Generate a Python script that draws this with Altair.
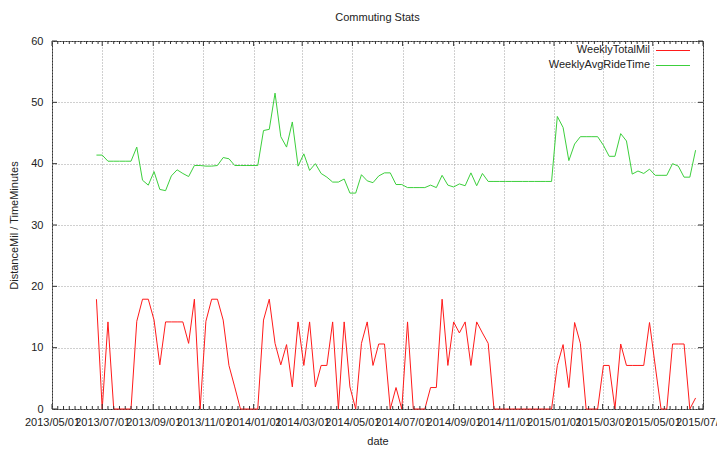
import altair as alt
import pandas as pd

# ---------------- data ----------------
series_names = ["WeeklyTotalMil", "WeeklyAvgRideTime"]
series_colors = ["#ff1a1a", "#3ccf3c"]

week_start = "2013-06-24"
n_weeks = 105

weekly_total_mil = [
    17.9, 0, 14.2, 0, 0, 0, 0, 14.3, 17.9, 17.9,
    14.5, 7.2, 14.2, 14.2, 14.2, 14.2, 10.7, 17.9, 0, 14.3,
    17.9, 17.9, 14.5, 7.1, 3.6, 0, 0, 0, 0, 14.5,
    17.9, 10.7, 7.2, 10.5, 3.6, 14.2, 7.1, 14.2, 3.6, 7.1,
    7.1, 14.2, 0, 14.2, 3.6, 0, 10.7, 14.2, 7.1, 10.6,
    10.6, 0, 3.5, 0, 14.2, 0, 0, 0, 3.5, 3.5,
    17.9, 7.1, 14.2, 12.4, 14.2, 7.1, 14.2, 12.4, 10.7, 0,
    0, 0, 0, 0, 0, 0, 0, 0, 0, 0,
    7.1, 10.5, 3.5, 14.1, 10.7, 0, 0, 0, 7.1, 7.1,
    0, 10.6, 7.1, 7.1, 7.1, 7.1, 14.1, 7.0, 0, 0,
    10.6, 10.6, 10.6, 0, 1.8,
]

weekly_avg_ride_time = [
    41.4, 41.4, 40.4, 40.4, 40.4, 40.4, 40.4, 42.7, 37.3, 36.5,
    38.7, 35.8, 35.6, 38.0, 39.0, 38.4, 37.9, 39.7, 39.7, 39.6,
    39.6, 39.7, 41.0, 40.8, 39.7, 39.7, 39.7, 39.7, 39.7, 45.4,
    45.6, 51.5, 44.4, 42.7, 46.8, 39.6, 41.6, 38.9, 40.0, 38.4,
    37.8, 37.0, 37.0, 37.5, 35.2, 35.2, 38.2, 37.2, 36.9, 38.0,
    38.5, 38.5, 36.6, 36.6, 36.1, 36.1, 36.1, 36.1, 36.5, 36.1,
    38.1, 36.5, 36.2, 36.7, 36.4, 38.5, 36.4, 38.4, 37.1, 37.1,
    37.1, 37.1, 37.1, 37.1, 37.1, 37.1, 37.1, 37.1, 37.1, 37.1,
    47.7, 45.9, 40.5, 43.2, 44.4, 44.4, 44.4, 44.4, 43.0, 41.2,
    41.2, 44.9, 43.7, 38.3, 38.8, 38.4, 39.1, 38.1, 38.1, 38.1,
    40.0, 39.6, 37.8, 37.8, 42.2,
]

x_tick_dates = [
    "2013-05-01", "2013-07-01", "2013-09-01", "2013-11-01",
    "2014-01-01", "2014-03-01", "2014-05-01", "2014-07-01",
    "2014-09-01", "2014-11-01", "2015-01-01", "2015-03-01",
    "2015-05-01", "2015-07-01",
]
y_ticks = [0, 10, 20, 30, 40, 50, 60]

title_text = "Commuting Stats"
x_title = "date"
y_title = "DistanceMil / TimeMinutes"

# ---------------- tables ----------------
dates = pd.date_range(week_start, periods=n_weeks, freq="7D").strftime("%Y-%m-%d")
df = pd.concat([
    pd.DataFrame({"date": dates, "value": weekly_total_mil, "series": series_names[0]}),
    pd.DataFrame({"date": dates, "value": weekly_avg_ride_time, "series": series_names[1]}),
])

major_df = pd.DataFrame({"date": x_tick_dates})
minor = []
for a, b in zip(x_tick_dates[:-1], x_tick_dates[1:]):
    d = pd.Timestamp(a) + pd.Timedelta(days=7)
    while d < pd.Timestamp(b) - pd.Timedelta(days=3):
        minor.append(d.strftime("%Y-%m-%d"))
        d += pd.Timedelta(days=7)
minor_df = pd.DataFrame({"date": minor})
ytick_df = pd.DataFrame({"value": y_ticks})
legend_df = pd.DataFrame({"series": series_names})

# ---------------- layout ----------------
W, H = 651, 368
FONT = "Liberation Sans"
TXT = "#222222"
FRAME = "#333333"


def dt(s):
    y, m, d = (int(p) for p in s.split("-"))
    return alt.DateTime(year=y, month=m, date=d, utc=True)


x_domain = [dt(x_tick_dates[0]), dt(x_tick_dates[-1])]
x_scale = alt.Scale(type="utc", domain=x_domain, nice=False)
y_scale = alt.Scale(domain=[y_ticks[0], y_ticks[-1]], nice=False, zero=False)
color_scale = alt.Scale(domain=series_names, range=series_colors)

x_axis = alt.Axis(
    values=[dt(s) for s in x_tick_dates],
    labelExpr="utcFormat(datum.value, '%Y/%m/%d')",
    labelFlush=False, labelOverlap=False, labelBound=False,
    tickSize=0, ticks=False, domain=False, labelPadding=7,
    grid=True, gridDash=[1, 2], gridColor="#a0a0a0", gridWidth=1,
    title=x_title, titleY=32, titleBaseline="middle",
)
y_axis = alt.Axis(
    values=y_ticks, tickSize=0, ticks=False, domain=False, labelPadding=9,
    grid=True, gridDash=[1, 2], gridColor="#a0a0a0", gridWidth=1,
    title=y_title, titleX=-38, titleY=H / 2, titleAngle=270,
    titleAlign="center", titleBaseline="middle",
)

xenc = alt.X("date:T", scale=x_scale, axis=x_axis, title=x_title)
yenc = alt.Y("value:Q", scale=y_scale, axis=y_axis, title=y_title)

lines = alt.Chart(df).mark_line(strokeWidth=1, interpolate="linear").encode(
    x=xenc, y=yenc,
    color=alt.Color("series:N", scale=color_scale, legend=None),
    detail="series:N",
)

maj_bot = alt.Chart(major_df).mark_rule(color=FRAME, strokeWidth=1).encode(
    x=xenc, y=alt.value(H), y2=alt.value(H - 5))
maj_top = alt.Chart(major_df).mark_rule(color=FRAME, strokeWidth=1).encode(
    x=xenc, y=alt.value(0), y2=alt.value(5))
min_bot = alt.Chart(minor_df).mark_rule(color=FRAME, strokeWidth=1).encode(
    x=xenc, y=alt.value(H), y2=alt.value(H - 3))
min_top = alt.Chart(minor_df).mark_rule(color=FRAME, strokeWidth=1).encode(
    x=xenc, y=alt.value(0), y2=alt.value(3))
yt_left = alt.Chart(ytick_df).mark_rule(color=FRAME, strokeWidth=1).encode(
    y=yenc, x=alt.value(0), x2=alt.value(5))
yt_right = alt.Chart(ytick_df).mark_rule(color=FRAME, strokeWidth=1).encode(
    y=yenc, x=alt.value(W), x2=alt.value(W - 5))

legend_layers = []
text_y = [9, 23.5]
line_y = [9.5, 24.5]
for i, name in enumerate(series_names):
    base = alt.Chart(legend_df).transform_filter(alt.datum.series == name)
    legend_layers.append(base.mark_text(
        align="right", baseline="middle", font=FONT, fontSize=11, color=TXT
    ).encode(text="series:N", x=alt.value(598), y=alt.value(text_y[i])))
    legend_layers.append(base.mark_rule(strokeWidth=1).encode(
        x=alt.value(604), x2=alt.value(638), y=alt.value(line_y[i]),
        color=alt.Color("series:N", scale=color_scale, legend=None)))

chart = alt.layer(
    lines, maj_bot, maj_top, min_bot, min_top, yt_left, yt_right, *legend_layers
).properties(
    width=W, height=H,
    autosize=alt.AutoSizeParams(type="none"),
    padding={"left": 44, "top": 33, "right": 14, "bottom": 36},
    background="white",
    title=alt.TitleParams(title_text, anchor="middle", fontSize=11, fontWeight="normal",
                          font=FONT, color=TXT, offset=3, baseline="alphabetic"),
).configure_view(
    stroke=FRAME, strokeWidth=1,
).configure_axis(
    labelFont=FONT, labelFontSize=11, labelColor=TXT,
    titleFont=FONT, titleFontSize=11, titleFontWeight="normal", titleColor=TXT,
)

chart.save("out.html", embed_options={"renderer": "svg", "actions": False})
